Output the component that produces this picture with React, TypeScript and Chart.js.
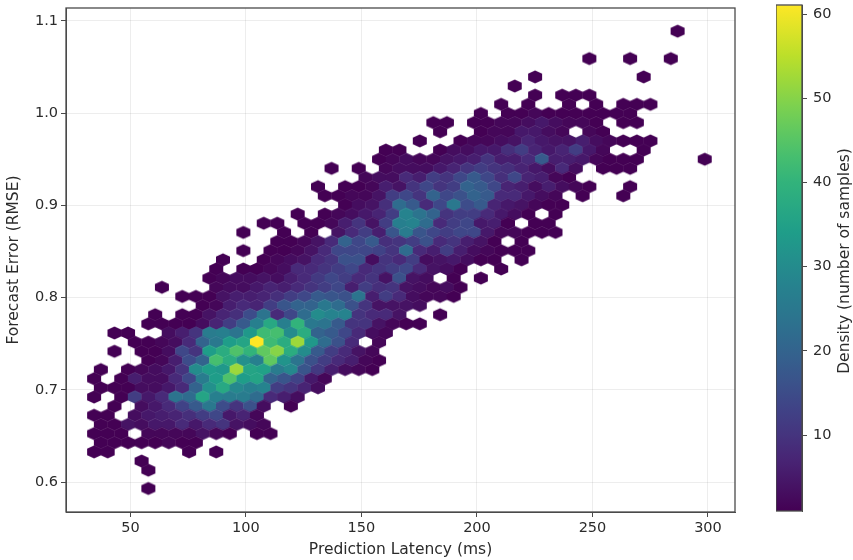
import React, { useEffect, useRef } from "react";
import { Chart, registerables } from "chart.js";

Chart.register(...registerables);

const latencyTicks = [50, 100, 150, 200, 250, 300];
const errorTicks = [0.6, 0.7, 0.8, 0.9, 1.0, 1.1];
const densityTicks = [10, 20, 30, 40, 50, 60];
const densityMin = 1;
const densityMax = 61;

// Hexbin grid: a row index, a first half-column index, then the sample counts
// at every second half-column of the row. A count of 0 is an empty bin.
const latencyOrigin = 22.51;
const latencyHalfStep = 2.937;
const errorOrigin = 1.0889;
const errorRowStep = 0.009914;

const hexRows: number[][] = [
  [0, 90, 1],
  [3, 77, 1, 0, 0, 1, 0, 0, 1],
  [5, 69, 1, 0, 0, 0, 0, 0, 0, 0, 1],
  [6, 66, 1],
  [7, 69, 1, 0, 1, 1, 1],
  [8, 64, 1, 0, 1, 0, 0, 1, 0, 1, 0, 1, 1, 1],
  [9, 61, 1, 0, 1, 1, 2, 1, 1, 1, 1, 1, 1, 1],
  [10, 54, 1, 1, 0, 1, 1, 2, 2, 3, 5, 3, 2, 2, 1, 0, 1, 1],
  [11, 55, 1, 0, 0, 1, 2, 2, 5, 5, 3, 2, 0, 2, 1],
  [12, 52, 1, 0, 0, 1, 2, 2, 3, 4, 7, 5, 4, 4, 6, 3, 2, 1, 1, 1],
  [13, 47, 1, 1, 0, 0, 1, 3, 3, 5, 5, 9, 12, 7, 5, 7, 12, 5, 2, 0, 0, 1],
  [14, 46, 1, 2, 3, 2, 2, 4, 5, 6, 10, 6, 6, 8, 18, 6, 6, 5, 2, 1, 1, 1, 0, 0, 0, 0, 1],
  [15, 39, 1, 0, 1, 0, 2, 3, 3, 3, 5, 7, 10, 12, 10, 9, 7, 5, 3, 8, 3, 0, 1, 1, 1],
  [16, 44, 2, 3, 3, 8, 6, 12, 10, 14, 18, 14, 9, 14, 7, 6, 2, 1],
  [17, 37, 1, 0, 1, 1, 2, 6, 4, 10, 14, 10, 12, 20, 18, 14, 7, 6, 3, 6, 3, 2, 1, 0, 0, 1],
  [18, 38, 1, 1, 2, 2, 4, 12, 14, 10, 20, 14, 16, 20, 18, 8, 8, 5, 3, 2, 0, 1, 0, 0, 1],
  [19, 41, 1, 3, 4, 9, 22, 18, 8, 14, 25, 15, 18, 7, 5, 4, 2, 1, 1],
  [20, 34, 1, 0, 1, 2, 3, 5, 7, 12, 28, 24, 20, 10, 12, 12, 8, 5, 3, 1, 0, 1],
  [21, 29, 1, 1, 0, 1, 1, 2, 6, 10, 4, 12, 27, 28, 22, 8, 12, 14, 5, 6, 1, 0, 1, 1],
  [22, 26, 1, 0, 0, 1, 0, 1, 0, 4, 8, 12, 6, 17, 26, 17, 14, 12, 14, 14, 5, 2, 2, 1, 1, 1],
  [23, 31, 1, 1, 2, 4, 8, 20, 14, 18, 9, 10, 12, 16, 8, 10, 6, 4, 1, 0, 1],
  [24, 26, 1, 0, 1, 1, 2, 4, 8, 14, 14, 14, 13, 10, 22, 8, 6, 12, 6, 3, 2, 1, 1, 1],
  [25, 23, 1, 0, 0, 1, 2, 3, 4, 8, 10, 16, 16, 3, 10, 8, 12, 3, 4, 5, 3, 1, 1, 0, 1],
  [26, 22, 1, 0, 1, 1, 2, 3, 8, 8, 10, 12, 14, 8, 10, 12, 14, 8, 4, 3, 1, 0, 0, 1],
  [27, 21, 1, 2, 3, 3, 4, 3, 6, 8, 11, 14, 12, 8, 10, 4, 16, 4, 3, 0, 1, 0, 1],
  [28, 14, 1, 0, 0, 0, 2, 3, 3, 5, 7, 6, 8, 10, 12, 14, 6, 12, 9, 10, 4, 3, 2, 3, 1],
  [29, 17, 1, 1, 1, 4, 6, 6, 7, 9, 12, 14, 18, 17, 16, 24, 6, 12, 8, 3, 2, 2, 1],
  [30, 20, 1, 2, 6, 8, 7, 12, 17, 20, 20, 25, 22, 16, 10, 4, 4, 4, 3],
  [31, 13, 1, 0, 1, 1, 4, 7, 9, 15, 24, 8, 14, 22, 30, 28, 28, 10, 8, 8, 4, 0, 0, 1],
  [32, 12, 1, 1, 1, 1, 3, 7, 12, 18, 27, 37, 27, 40, 25, 24, 18, 10, 10, 4, 2, 1, 1],
  [33, 7, 1, 1, 0, 0, 3, 6, 10, 26, 27, 24, 33, 42, 43, 30, 38, 20, 18, 14, 8, 3, 2],
  [34, 10, 1, 1, 2, 3, 8, 20, 25, 34, 36, 61, 42, 38, 52, 33, 22, 16, 8, 0, 2],
  [35, 7, 1, 0, 1, 1, 3, 14, 10, 34, 38, 44, 40, 46, 50, 38, 30, 18, 12, 8, 4, 2],
  [36, 12, 1, 2, 6, 15, 20, 43, 38, 31, 27, 46, 32, 24, 16, 12, 8, 6, 2, 1],
  [37, 5, 1, 0, 1, 2, 3, 5, 10, 30, 34, 33, 52, 36, 35, 26, 29, 17, 11, 6, 3, 2, 1],
  [38, 4, 1, 0, 1, 6, 3, 3, 8, 14, 26, 34, 44, 34, 36, 20, 17, 13, 5, 2],
  [39, 5, 1, 1, 1, 3, 3, 5, 8, 20, 31, 37, 29, 27, 28, 12, 10, 7, 3],
  [40, 4, 1, 0, 1, 12, 5, 8, 24, 22, 36, 27, 26, 26, 22, 8, 6, 3],
  [41, 7, 1, 0, 3, 5, 8, 13, 18, 25, 15, 10, 16, 3, 0, 1],
  [42, 4, 1, 1, 0, 3, 5, 6, 7, 9, 12, 14, 5, 7, 2],
  [43, 5, 1, 1, 4, 3, 5, 5, 8, 5, 8, 10, 4, 3, 2],
  [44, 4, 1, 1, 1, 0, 2, 2, 2, 2, 4, 2, 1, 0, 1, 1],
  [45, 5, 1, 1, 1, 1, 1, 2, 1, 1],
  [46, 4, 1, 1, 0, 0, 0, 0, 0, 1, 0, 1],
  [47, 11, 1],
  [48, 12, 1],
  [50, 12, 1],
];

const viridisStops = [
  [68, 1, 84], [72, 40, 120], [62, 73, 137], [49, 104, 142], [38, 130, 142],
  [31, 158, 137], [53, 183, 121], [110, 206, 88], [181, 222, 43], [253, 231, 37],
];

const textColor = "#2b2b2b";
const frameColor = "#4a4a4a";
const fontFamily = "'DejaVu Sans', sans-serif";

function viridis(t: number): string {
  const p = Math.max(0, Math.min(1, t)) * (viridisStops.length - 1);
  const i = Math.min(Math.floor(p), viridisStops.length - 2);
  const f = p - i;
  const c = viridisStops[i].map((v, k) => Math.round(v + (viridisStops[i + 1][k] - v) * f));
  return `rgb(${c[0]},${c[1]},${c[2]})`;
}

const hexCache = new Map<number, HTMLCanvasElement>();
function hexImage(count: number): HTMLCanvasElement {
  const cached = hexCache.get(count);
  if (cached) return cached;
  const c = document.createElement("canvas");
  c.width = 18;
  c.height = 18;
  const g = c.getContext("2d")!;
  const halfW = 7.0;
  const side = 6.6;
  g.fillStyle = viridis((count - densityMin) / (densityMax - densityMin));
  g.beginPath();
  g.moveTo(9, 9 - side);
  g.lineTo(9 + halfW, 9 - side / 2);
  g.lineTo(9 + halfW, 9 + side / 2);
  g.lineTo(9, 9 + side);
  g.lineTo(9 - halfW, 9 + side / 2);
  g.lineTo(9 - halfW, 9 - side / 2);
  g.closePath();
  g.fill();
  hexCache.set(count, c);
  return c;
}

const hexPoints = hexRows.flatMap(([row, start, ...counts]) =>
  counts
    .map((count, i) => ({
      x: latencyOrigin + latencyHalfStep * (start + 2 * i),
      y: errorOrigin - errorRowStep * row,
      count,
    }))
    .filter((p) => p.count > 0)
);

const framePlugin = {
  id: "frame",
  afterDraw(chart: any) {
    const { ctx, chartArea: a } = chart;
    ctx.save();
    ctx.strokeStyle = frameColor;
    ctx.lineWidth = 1.3;
    ctx.strokeRect(a.left, a.top, a.right - a.left, a.bottom - a.top);
    ctx.restore();
  },
};

const colorbarTitlePlugin = {
  id: "colorbarTitle",
  afterDraw(chart: any) {
    const { ctx, chartArea: a } = chart;
    ctx.save();
    ctx.translate(69, (a.top + a.bottom) / 2 + 3);
    ctx.rotate(-Math.PI / 2);
    ctx.fillStyle = textColor;
    ctx.font = `15.5px ${fontFamily}`;
    ctx.textAlign = "center";
    ctx.textBaseline = "middle";
    ctx.fillText("Density (number of samples)", 0, 0);
    ctx.restore();
  },
};

const noOverhang = (s: any) => {
  s.paddingTop = 0;
  s.paddingBottom = 0;
  s.paddingLeft = 0;
  s.paddingRight = 0;
};

export default function App() {
  const mainRef = useRef<HTMLCanvasElement>(null);
  const barRef = useRef<HTMLCanvasElement>(null);

  useEffect(() => {
    const tickFont = { family: fontFamily, size: 14.5 };
    const titleFont = { family: fontFamily, size: 15.5 };
    const main = new Chart(mainRef.current!, {
      type: "scatter",
      data: {
        datasets: [
          {
            label: "Density",
            data: hexPoints as any,
            pointStyle: (ctx: any) => hexImage((ctx.raw as any).count),
            pointRadius: 7,
            pointHoverRadius: 7,
          } as any,
        ],
      },
      options: {
        responsive: false,
        animation: false,
        layout: { padding: { top: 5, right: 118, left: 0, bottom: 0 } },
        plugins: { legend: { display: false }, tooltip: { enabled: false } },
        scales: {
          x: {
            type: "linear",
            min: 22.1,
            max: 311.7,
            afterBuildTicks: (s: any) => {
              s.ticks = latencyTicks.map((value) => ({ value }));
            },
            afterFit: (s: any) => {
              s.height = 48;
              noOverhang(s);
            },
            grid: { color: "rgba(0,0,0,0.07)", tickColor: frameColor, tickLength: 5 },
            border: { color: frameColor },
            ticks: { color: textColor, font: tickFont, padding: 3, maxRotation: 0, autoSkip: false },
            title: { display: true, text: "Prediction Latency (ms)", color: textColor, font: titleFont, padding: { top: 5, bottom: 1 } },
          },
          y: {
            type: "linear",
            min: 0.5677,
            max: 1.114,
            afterBuildTicks: (s: any) => {
              s.ticks = errorTicks.map((value) => ({ value }));
            },
            afterFit: (s: any) => {
              s.width = 66;
              noOverhang(s);
            },
            grid: { color: "rgba(0,0,0,0.07)", tickColor: frameColor, tickLength: 5 },
            border: { color: frameColor },
            ticks: { color: textColor, font: tickFont, padding: 3, autoSkip: false, callback: (v: any) => Number(v).toFixed(1) },
            title: { display: true, text: "Forecast Error (RMSE)", color: textColor, font: titleFont, padding: { top: 5, bottom: 5 } },
          },
        },
      },
      plugins: [framePlugin],
    } as any);

    const bar = new Chart(barRef.current!, {
      type: "bar",
      data: {
        labels: ["Density"],
        datasets: [
          {
            data: [[densityMin, densityMax]] as any,
            barPercentage: 1,
            categoryPercentage: 1,
            backgroundColor: (ctx: any) => {
              const a = ctx.chart.chartArea;
              if (!a) return viridis(0.5);
              const g = ctx.chart.ctx.createLinearGradient(0, a.bottom, 0, a.top);
              for (let i = 0; i <= 20; i++) g.addColorStop(i / 20, viridis(i / 20));
              return g;
            },
          },
        ],
      },
      options: {
        responsive: false,
        animation: false,
        layout: { padding: { top: 5, bottom: 49, left: 0, right: 0 } },
        plugins: { legend: { display: false }, tooltip: { enabled: false } },
        scales: {
          x: { display: false },
          y: {
            position: "right",
            min: densityMin,
            max: 61.07,
            afterBuildTicks: (s: any) => {
              s.ticks = densityTicks.map((value) => ({ value }));
            },
            afterFit: (s: any) => {
              s.width = 51;
              noOverhang(s);
            },
            grid: { drawOnChartArea: false, tickColor: frameColor, tickLength: 5 },
            border: { color: frameColor },
            ticks: { color: textColor, font: tickFont, padding: 6, autoSkip: false },
          },
        },
      },
      plugins: [framePlugin, colorbarTitlePlugin],
    } as any);

    return () => {
      main.destroy();
      bar.destroy();
    };
  }, []);

  return (
    <div style={{ position: "fixed", left: 0, top: 0, width: 853, height: 560, background: "#fff", overflow: "hidden" }}>
      <canvas ref={mainRef} width={853} height={560} style={{ position: "absolute", left: 0, top: 0 }} />
      <canvas ref={barRef} width={77} height={560} style={{ position: "absolute", left: 776, top: 0 }} />
    </div>
  );
}
